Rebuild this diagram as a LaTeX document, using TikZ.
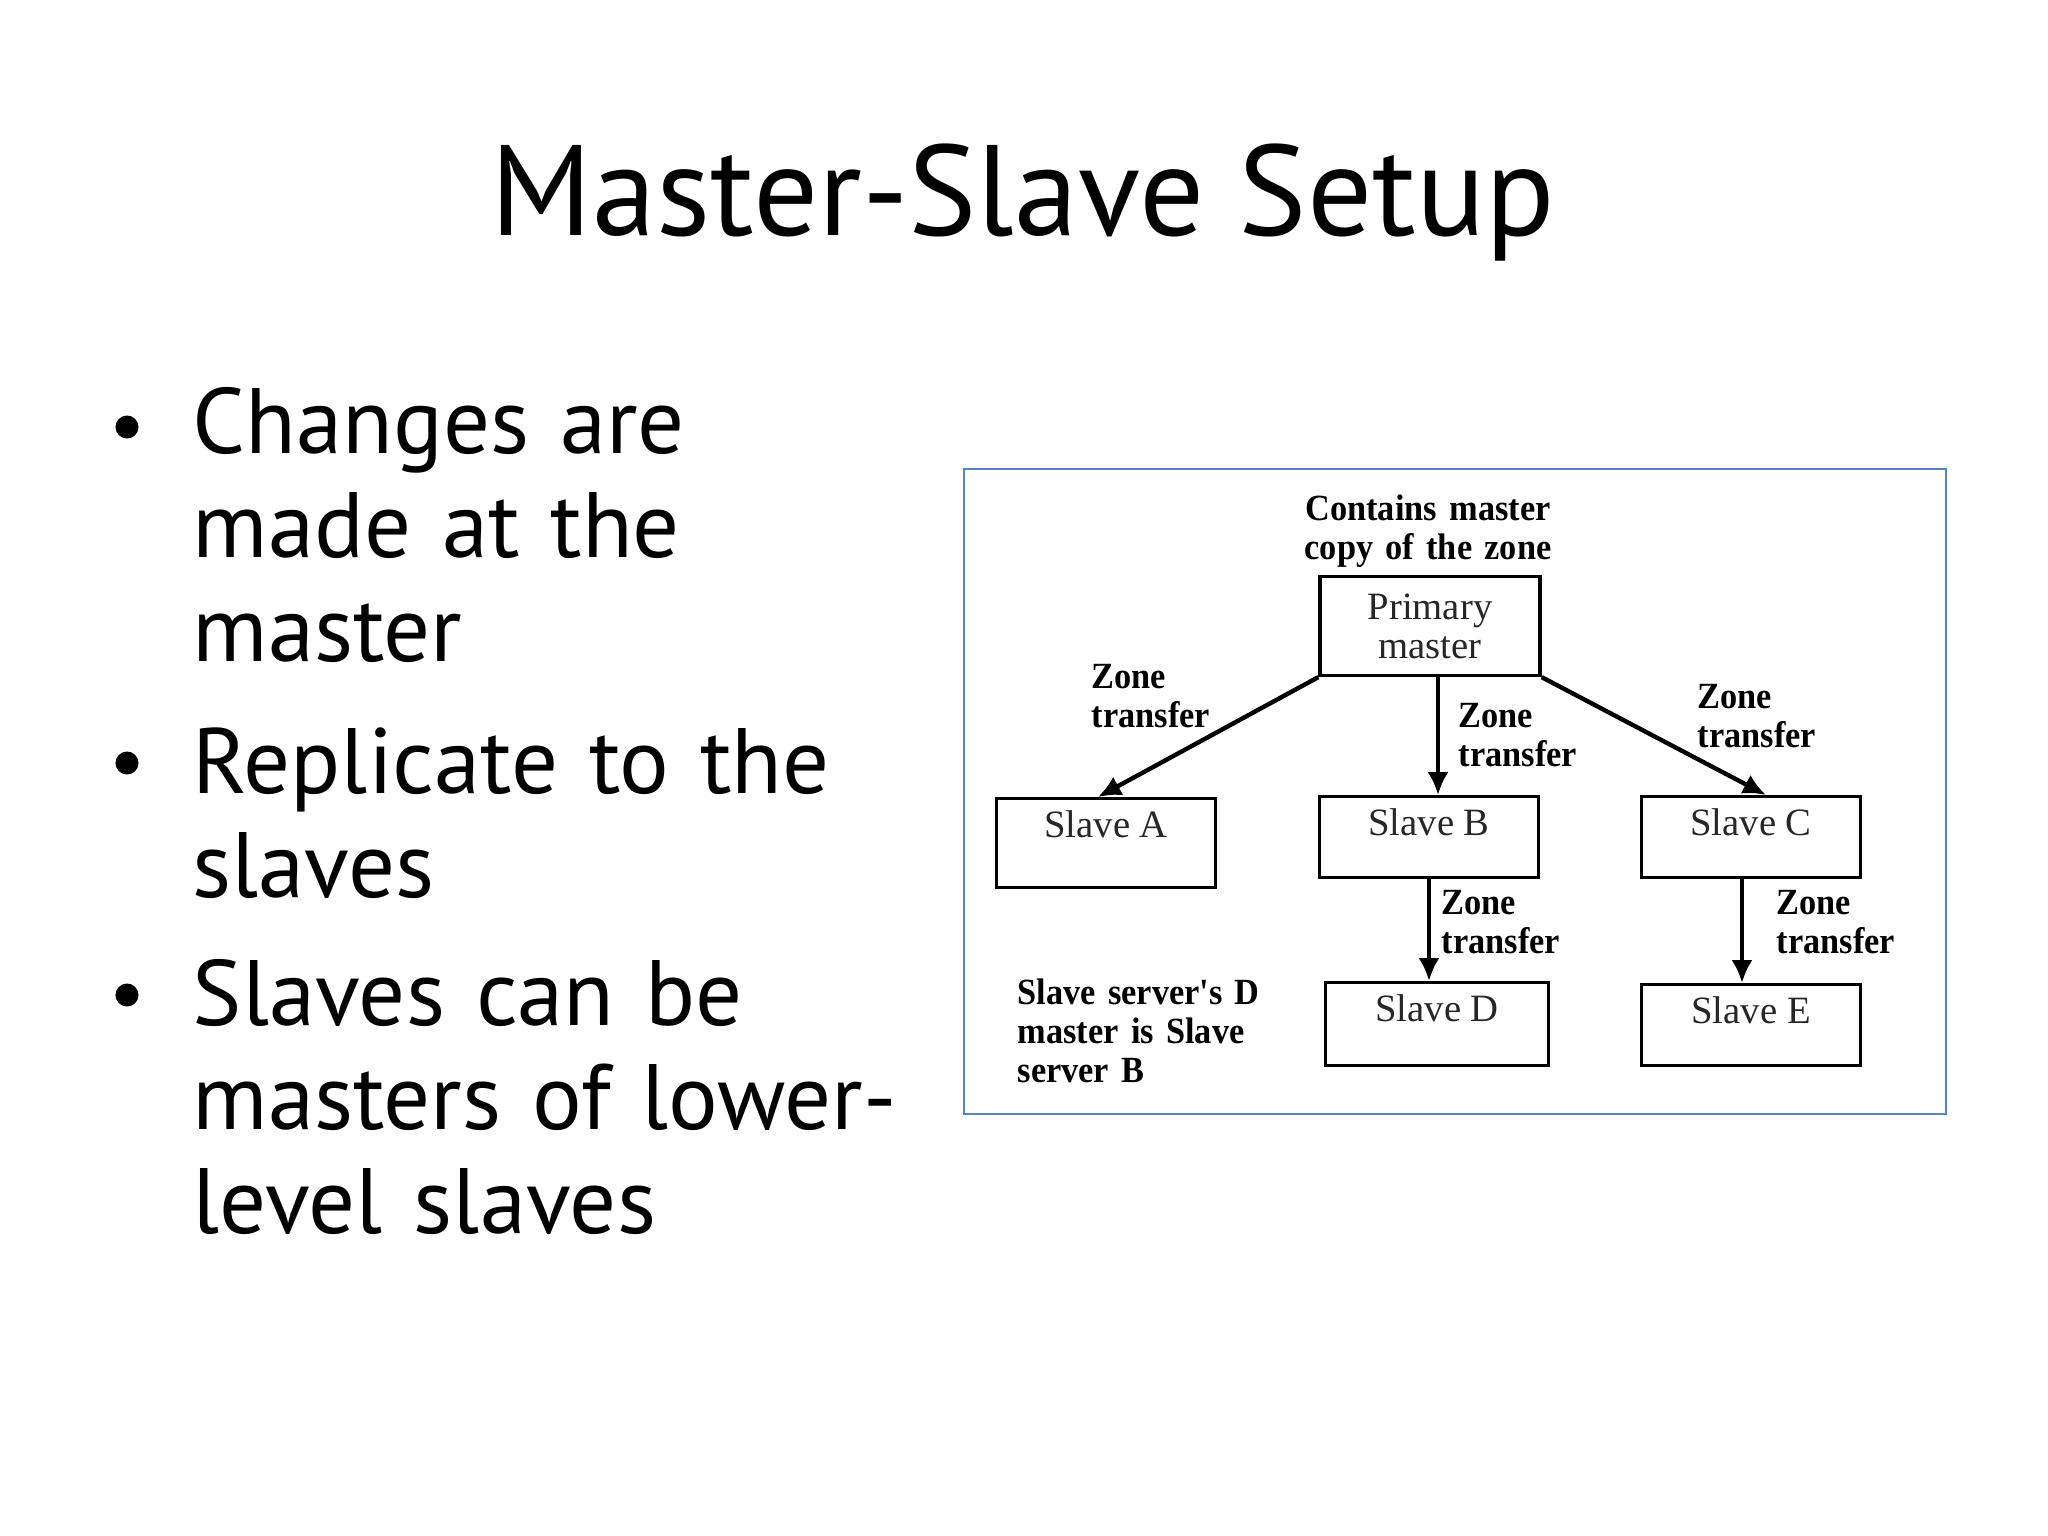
\documentclass[tikz,border=0pt]{standalone}
\usepackage{fontspec}
\usepackage{xcolor}
\usetikzlibrary{arrows.meta}
\setmainfont{Liberation Serif}
\newfontfamily\slidefont{PT Sans}
\newfontfamily\labelfont[FakeStretch=0.93]{Liberation Serif}
\definecolor{framebl}{RGB}{84,130,196}

\begin{document}
\begin{tikzpicture}[x=0.01cm, y=-0.01cm,
    slavebox/.style={draw, line width=0.9pt, inner sep=0pt, minimum width=2.19cm,
      text height=0.39cm, text depth=0.44cm, text=black!85,
      font=\fontsize{11}{11.1}\selectfont},
    zonelbl/.style={anchor=base west, inner sep=0pt, text width=1.3cm, align=left,
      font=\labelfont\bfseries\fontsize{10.5}{11.1}\selectfont},
    bullettext/.style={anchor=base west, inner sep=0pt, text width=7.6cm, align=left,
      font=\slidefont\fontsize{26.4}{29.7}\selectfont},
    bulletdot/.style={circle, fill, inner sep=0pt, minimum size=0.23cm},
    xfer/.style={-{Latex[length=6.5pt,width=6pt]}, line width=1.25pt}]

      \useasboundingbox (0,0) rectangle (2048,1536);

      % Title
      \node[anchor=base, font=\slidefont\fontsize{36.6}{40}\selectfont] (title) at (1023,235) {Master-Slave Setup};

      % Bullets
      \node[bullettext] (b1) at (192,453) {Changes are\\made at the\\master};
      \node[bullettext] (b2) at (192,793) {Replicate to the\\slaves};
      \node[bullettext] (b3) at (192,1025) {Slaves can be\\masters of lower-\\level slaves};
      \node[bulletdot] (d1) at (127,427) {};
      \node[bulletdot] (d2) at (127,763) {};
      \node[bulletdot] (d3) at (127,995) {};

      % Diagram frame
      \draw[framebl, line width=0.6pt] (964,469) rectangle (1946,1114);

      % Servers
      \node[draw, line width=0.9pt, inner sep=0pt, minimum width=2.2cm, minimum height=0.99cm,
        align=center, text=black!85, font=\fontsize{11}{11.1}\selectfont] (master) at (1430,626) {Primary\\master};
      \node[anchor=base, inner sep=0pt, text width=3cm, align=center,
        font=\labelfont\bfseries\fontsize{10.5}{11.1}\selectfont] (masternote) at (1428,520) {Contains master\\copy of the zone};

      \node[slavebox, anchor=north, text depth=0.50cm] (slaveA) at (1106,797) {Slave A};
      \node[slavebox, anchor=north, text depth=0.42cm] (slaveB) at (1429,795) {Slave B};
      \node[slavebox, anchor=north, text depth=0.42cm] (slaveC) at (1751,795) {Slave C};
      \node[slavebox, anchor=north, minimum width=2.23cm, text depth=0.44cm] (slaveD) at (1437,981) {Slave D};
      \node[slavebox, anchor=north, text depth=0.42cm] (slaveE) at (1751,983) {Slave E};

      % Zone transfers
      \draw[xfer] (master.south west) -- ([xshift=-0.08cm]slaveA.north);
      \draw[xfer] ([xshift=0.08cm]master.south) -- ([xshift=0.08cm]master.south |- slaveB.north);
      \draw[xfer] (master.south east) -- ([xshift=0.15cm]slaveC.north);
      \draw[xfer] (slaveB.south) -- (slaveB.south |- slaveD.north);
      \draw[xfer] ([xshift=-0.09cm]slaveC.south) -- ([xshift=-0.09cm]slaveC.south |- slaveE.north);

      \node[zonelbl] (zoneA) at (1091,688) {Zone\\transfer};
      \node[zonelbl] (zoneB) at (1458,727) {Zone\\transfer};
      \node[zonelbl] (zoneC) at (1697,708) {Zone\\transfer};
      \node[zonelbl] (zoneD) at (1441,914) {Zone\\transfer};
      \node[zonelbl] (zoneE) at (1776,914) {Zone\\transfer};

      % Note on slave D
      \node[zonelbl, text width=3cm] (dnote) at (1017,1004) {Slave server's D\\master is Slave\\server B};
    \end{tikzpicture}
\end{document}
